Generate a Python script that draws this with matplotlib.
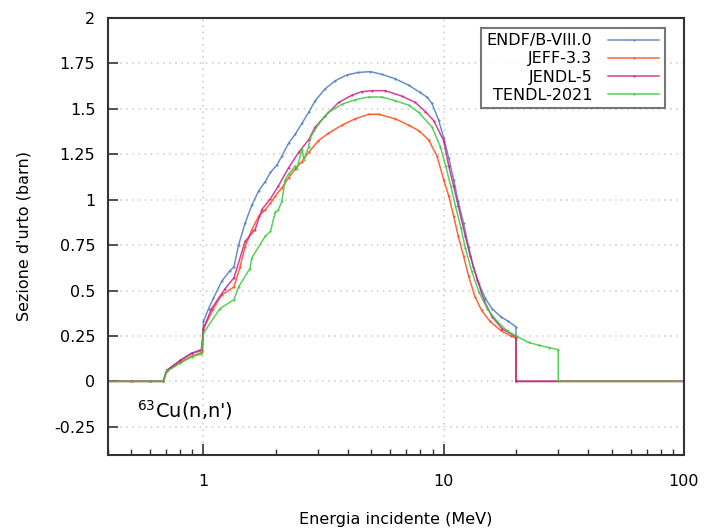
import matplotlib
matplotlib.use("Agg")
import matplotlib.pyplot as plt
from matplotlib.ticker import LogLocator, FixedLocator, NullFormatter

labels = ["ENDF/B-VIII.0", "JEFF-3.3", "JENDL-5", "TENDL-2021"]
colors = ["#4a7ebb", "#ff4a14", "#cc1f8f", "#3cc83c"]

endf_E = [0.4, 0.5, 0.6, 0.68, 0.703, 0.8, 0.894, 0.99, 1.0, 1.05, 1.10, 1.19, 1.29, 1.34, 1.40,
          1.49, 1.59, 1.70, 1.81, 1.90, 2.02, 2.12, 2.26, 2.41, 2.57, 2.74, 2.92, 3.21, 3.54,
          3.96, 4.42, 4.95, 5.53, 6.29, 7.15, 7.98, 8.51, 8.94, 9.52, 10.0, 10.5, 11.0, 11.5,
          12.1, 12.7, 13.3, 14.0, 14.9, 15.9, 17.3, 18.6, 20.0, 20.0, 100]
endf_s = [0, 0, 0, 0, 0.06, 0.115, 0.155, 0.17, 0.33, 0.40, 0.457, 0.55, 0.61, 0.63, 0.75,
          0.87, 0.97, 1.05, 1.10, 1.15, 1.19, 1.24, 1.31, 1.36, 1.42, 1.48, 1.545, 1.61, 1.655,
          1.687, 1.70, 1.705, 1.69, 1.665, 1.63, 1.59, 1.565, 1.53, 1.44, 1.34, 1.23, 1.11, 0.99,
          0.87, 0.74, 0.63, 0.54, 0.457, 0.40, 0.356, 0.33, 0.30, 0, 0]

jeff_E = [0.4, 0.5, 0.6, 0.68, 0.703, 0.8, 0.894, 0.99, 1.0, 1.10, 1.19, 1.34, 1.42, 1.49, 1.59,
          1.70, 1.81, 1.90, 1.99, 2.12, 2.26, 2.41, 2.57, 2.74, 3.01, 3.31, 3.77, 4.28, 4.87,
          5.36, 6.29, 7.15, 7.88, 8.65, 9.38, 10.0, 10.5, 11.0, 11.5, 12.1, 12.7, 13.5, 14.4,
          15.6, 17.3, 19.0, 20.0, 20.0, 100]
jeff_s = [0, 0, 0, 0, 0.055, 0.105, 0.14, 0.16, 0.29, 0.40, 0.475, 0.52, 0.63, 0.74, 0.835,
          0.91, 0.945, 0.98, 1.02, 1.065, 1.12, 1.17, 1.21, 1.26, 1.325, 1.365, 1.41, 1.445, 1.47,
          1.47, 1.445, 1.41, 1.38, 1.33, 1.24, 1.11, 1.02, 0.91, 0.80, 0.69, 0.58, 0.466, 0.39,
          0.33, 0.28, 0.25, 0.24, 0, 0]

jendl_E = [0.4, 0.5, 0.6, 0.68, 0.703, 0.8, 0.894, 0.98, 1.0, 1.08, 1.23, 1.34, 1.49, 1.64,
           1.75, 1.90, 2.05, 2.26, 2.49, 2.74, 2.92, 3.21, 3.65, 4.15, 4.57, 5.03, 5.71, 6.70,
           7.62, 8.40, 9.09, 10.0, 10.5, 11.0, 11.5, 12.3, 12.9, 13.8, 14.7, 15.9, 17.5, 20.0,
           20.0, 100]
jendl_s = [0, 0, 0, 0, 0.06, 0.115, 0.155, 0.175, 0.29, 0.40, 0.51, 0.57, 0.77, 0.835,
           0.945, 1.005, 1.075, 1.175, 1.26, 1.33, 1.40, 1.46, 1.535, 1.575, 1.595, 1.60, 1.60, 1.57,
           1.535, 1.485, 1.435, 1.325, 1.185, 1.075, 0.965, 0.80, 0.69, 0.56, 0.448, 0.356, 0.29, 0.245,
           0, 0]

tendl_E = [0.4, 0.5, 0.6, 0.68, 0.703, 0.8, 0.894, 0.98, 1.0, 1.17, 1.34, 1.40, 1.56, 1.59,
           1.81, 1.90, 1.99, 2.05, 2.12, 2.19, 2.26, 2.41, 2.45, 2.57, 2.62, 2.74, 2.78, 3.01,
           3.31, 3.77, 4.28, 4.87, 5.53, 6.29, 7.15, 7.88, 8.94, 9.7, 10.2, 10.7, 11.2, 11.8,
           12.3, 13.1, 14.0, 15.2, 16.7, 18.3, 20.0, 22.6, 24.9, 27.4, 30.0, 30.0, 100]
tendl_s = [0, 0, 0, 0, 0.055, 0.10, 0.135, 0.15, 0.265, 0.40, 0.45, 0.52, 0.62, 0.68,
           0.80, 0.825, 0.93, 0.945, 0.99, 1.11, 1.14, 1.185, 1.17, 1.28, 1.22, 1.29, 1.34, 1.415,
           1.48, 1.525, 1.55, 1.565, 1.565, 1.545, 1.52, 1.48, 1.40, 1.29, 1.185, 1.075, 0.965, 0.845,
           0.735, 0.605, 0.494, 0.40, 0.33, 0.28, 0.25, 0.214, 0.199, 0.186, 0.175, 0, 0]

series = [(endf_E, endf_s), (jeff_E, jeff_s), (jendl_E, jendl_s), (tendl_E, tendl_s)]

y_ticks = [-0.25, 0, 0.25, 0.5, 0.75, 1, 1.25, 1.5, 1.75, 2]
y_ticklabels = ["-0.25", "0", "0.25", "0.5", "0.75", "1", "1.25", "1.5", "1.75", "2"]
x_ticks = [1, 10, 100]
x_ticklabels = ["1", "10", "100"]

plt.rcParams['font.family'] = ['DejaVu Sans']
fig = plt.figure(figsize=(7.05, 5.29), dpi=100)
ax = fig.add_axes([0.153, 0.140, 0.817, 0.826])

for (E, s), lab, c in zip(series, labels, colors):
    ax.plot(E, s, color=c, lw=1.1, alpha=0.85, marker='o', markersize=1.6,
            markeredgewidth=0, label=lab)

ax.set_xscale('log')
ax.set_xlim(0.4, 100)
ax.set_ylim(-0.405, 2)

ax.xaxis.set_major_locator(FixedLocator(x_ticks))
ax.set_xticklabels(x_ticklabels)
ax.xaxis.set_minor_locator(LogLocator(base=10, subs=range(2, 10)))
ax.xaxis.set_minor_formatter(NullFormatter())
ax.set_yticks(y_ticks)
ax.set_yticklabels(y_ticklabels)

ax.tick_params(axis='x', which='major', direction='in', length=8, width=1.2,
               labelsize=11.5, pad=14, top=False, color='#333333')
ax.tick_params(axis='x', which='minor', direction='in', length=4, width=1.0,
               top=False, color='#333333')
ax.tick_params(axis='y', which='major', direction='in', length=7, width=1.2,
               labelsize=11.5, pad=9, right=False, color='#333333')

ax.grid(True, which='major', color='#c8c8c8', linestyle=(0, (1, 3)), linewidth=1.1)
ax.set_axisbelow(True)

for sp in ax.spines.values():
    sp.set_color('#333333')
    sp.set_linewidth(1.5)

ax.set_xlabel("Energia incidente (MeV)", fontsize=11.5, labelpad=16)
ax.set_ylabel("Sezione d'urto (barn)", fontsize=11.5, labelpad=16)

ax.text(0.53, -0.16, "$^{63}$Cu(n,n')", fontsize=14, va='center', ha='left',
        math_fontfamily='dejavusans')

leg = ax.legend(loc='upper right', bbox_to_anchor=(0.967, 0.978), borderaxespad=0,
                markerfirst=False, fontsize=11.5, frameon=True, fancybox=False,
                handlelength=3.2, borderpad=0.35, labelspacing=0.2, handletextpad=1.0)
leg.get_frame().set_edgecolor('#555555')
leg.get_frame().set_linewidth(1.5)
for t in leg.get_texts():
    t.set_ha('right')
leg._legend_box.align = 'right'

fig.savefig("out.png", dpi=100)
